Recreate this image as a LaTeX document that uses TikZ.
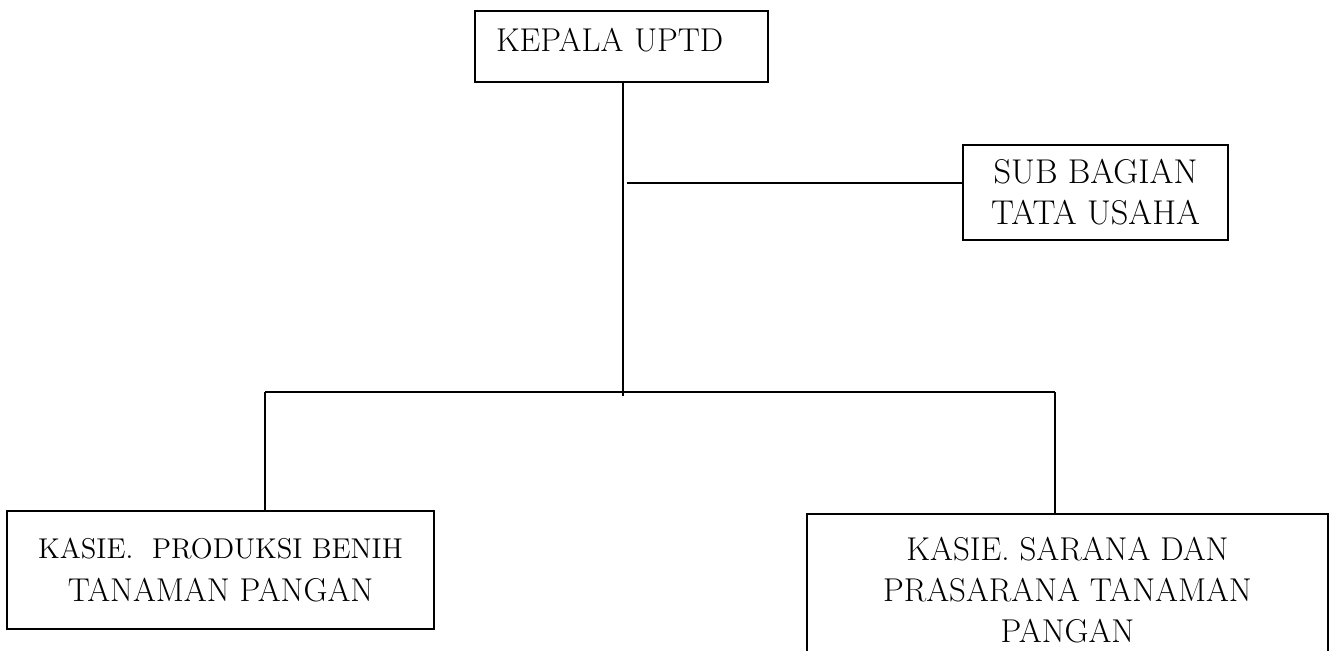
\documentclass[tikz,border=0pt]{standalone}
\usetikzlibrary{positioning}
\begin{document}
\begin{tikzpicture}[
  x=0.5pt, y=-0.5pt,
  box/.style={draw, line width=1pt, align=center, inner sep=0pt, font=\fontsize{16.5}{20.5}\selectfont},
  link/.style={line width=1pt}
]
\useasboundingbox (0,0) rectangle (1329,650);
\clip (0,0) rectangle (1329,650);

\node[box, anchor=north west, align=left, text width=125.5pt, inner xsep=10.5pt, inner ysep=9.5pt, text height=10.5pt, text depth=6pt] (kepala) at (474,10) {KEPALA UPTD};
\node[box, minimum width=132.5pt, minimum height=47.5pt, font=\fontsize{17.2}{20.5}\selectfont] (subbag) at (1095.5,192.5) {SUB BAGIAN\\TATA USAHA};
\node[box, minimum width=213.5pt, minimum height=59pt, font=\fontsize{16.5}{21.5}\selectfont] (produksi) at (220.5,570) {{\fontsize{14.3}{21.5}\selectfont KASIE.\ \ PRODUKSI BENIH}\\TANAMAN PANGAN};
\node[box, minimum width=260.5pt, minimum height=76pt] (sarana) at (1067.5,590) {KASIE. SARANA DAN\\PRASARANA TANAMAN\\PANGAN};

\coordinate (trunk) at (623,396);
\coordinate (tap) at (627,183);
\coordinate (barL) at (265,392);
\coordinate (barR) at (1055,392);

\draw[link] (trunk |- kepala.south) -- (trunk);
\draw[link] (tap) -- (tap -| subbag.west);
\draw[link] (barL) -- (barR);
\draw[link] (barL) -- (barL |- produksi.north);
\draw[link] (barR) -- (barR |- sarana.north);
\end{tikzpicture}
\end{document}
